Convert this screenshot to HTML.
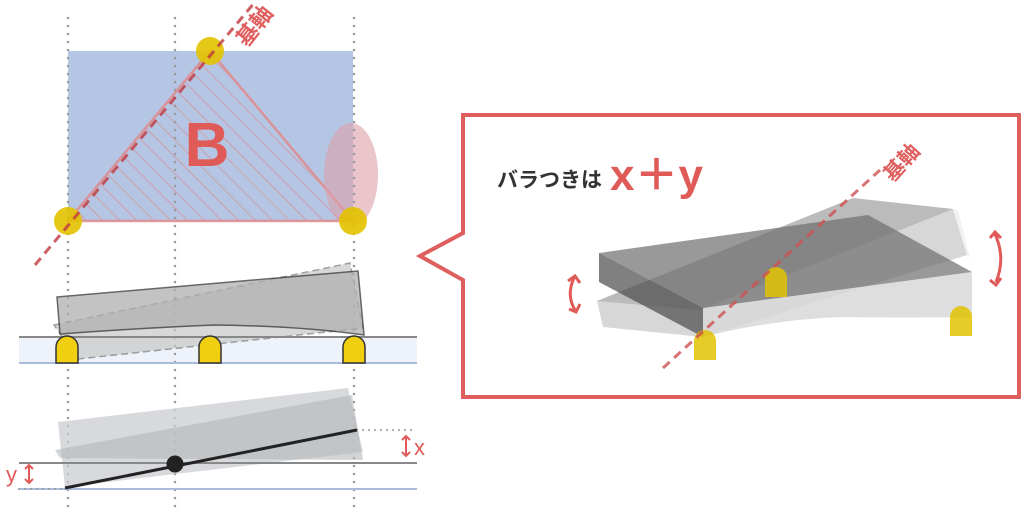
<!DOCTYPE html>
<html><head><meta charset="utf-8"><style>
html,body{margin:0;padding:0;background:#fff;width:1024px;height:512px;overflow:hidden}
svg{display:block}
text{font-family:"Liberation Sans","Noto Sans CJK JP",sans-serif}
</style></head><body>
<svg width="1024" height="512" viewBox="0 0 1024 512" xmlns="http://www.w3.org/2000/svg">
<defs>
<pattern id="h" width="12" height="12" patternUnits="userSpaceOnUse" patternTransform="rotate(-45)">
<line x1="0" y1="0" x2="0" y2="12" stroke="#d98e98" stroke-width="3" opacity="0.6"/>
</pattern>
</defs>
<rect x="68" y="51" width="285" height="170" fill="#b5c6e4"/>
<polygon points="68,221 210,51 353,221" fill="url(#h)" stroke="#e08a8a" stroke-width="2.5" opacity="0.85"/>
<ellipse cx="351" cy="175" rx="27" ry="52" fill="#dca0a8" opacity="0.6"/>
<rect x="19" y="337" width="398" height="26" fill="#eef2fa"/>
<g stroke="#999" stroke-width="2.5" stroke-dasharray="0 8" stroke-linecap="round">
<line x1="68" y1="18" x2="68" y2="512"/><line x1="175" y1="18" x2="175" y2="512"/><line x1="354" y1="18" x2="354" y2="512"/>
</g>
<g fill="#e3c200" opacity="0.9">
<circle cx="68" cy="221" r="14"/><circle cx="210" cy="51" r="14"/><circle cx="353" cy="221" r="14"/>
</g>
<line x1="35" y1="265" x2="255" y2="2" stroke="#c0393e" stroke-width="3" stroke-dasharray="9 6" opacity="0.8"/>
<text x="0" y="0" transform="translate(247,48) rotate(-52)" font-size="22" font-weight="bold" fill="#e06060">基軸</text>
<text x="207" y="166" font-size="62" font-weight="bold" fill="#e05a58" text-anchor="middle">B</text>

<polygon points="54,325 350,263 363,328 78,359" fill="#c8c8c8" opacity="0.7" stroke="#777" stroke-width="1.5" stroke-dasharray="7 4"/>
<path d="M57,297 L358,271 L364,335 Q300,326 215,325 Q140,328 60,334 Z" fill="#b0b0b0" opacity="0.75" stroke="#333" stroke-width="1.5"/>
<line x1="19" y1="337" x2="417" y2="337" stroke="#888" stroke-width="2"/>
<line x1="19" y1="363" x2="417" y2="363" stroke="#aabbdd" stroke-width="2"/>
<g fill="#f0cf10" stroke="#333" stroke-width="1.5">
<path d="M56,363 V347 A11,11 0 0 1 78,347 V363 Z"/>
<path d="M199,363 V347 A11,11 0 0 1 221,347 V363 Z"/>
<path d="M343,363 V347 A11,11 0 0 1 365,347 V363 Z"/>
</g>

<polygon points="58,422 348,388 363,452 65,487" fill="#c9ccd0" opacity="0.75"/>
<polygon points="55,450 352,395 363,460 60,458" fill="#b4b7bb" opacity="0.6"/>
<line x1="19" y1="463" x2="417" y2="463" stroke="#888" stroke-width="2"/>
<line x1="19" y1="489" x2="417" y2="489" stroke="#aabbdd" stroke-width="2"/>
<g stroke="#999" stroke-width="2" stroke-dasharray="0 6" stroke-linecap="round">
<line x1="357" y1="430" x2="417" y2="430"/><line x1="19" y1="489" x2="65" y2="489"/>
</g>
<line x1="65" y1="488" x2="357" y2="430" stroke="#222" stroke-width="3"/>
<circle cx="175" cy="464" r="8.5" fill="#222"/>
<text x="414" y="455" font-size="22" fill="#e05a58">x</text>
<text x="6" y="482" font-size="22" fill="#e05a58">y</text>
<g stroke="#e05a58" stroke-width="2" fill="none">
<path d="M406,436 V456 M402,440 L406,436 L410,440 M402,452 L406,456 L410,452"/>
<path d="M29,465 V483 M25,469 L29,465 L33,469 M25,479 L29,483 L33,479"/>
</g>

<path d="M463,115 H1019 V397 H463 V280 L420,256 L463,233 Z" fill="#fff" stroke="#de5f5d" stroke-width="4"/>
<text x="497" y="187" font-size="21" font-weight="bold" fill="#333">バラつきは</text>
<text x="610" y="190" font-size="44" font-weight="bold" fill="#e05a58">x＋y</text>

<!-- slab A (light, tilted) -->
<polygon points="597,301 853,198 953,209 967,255 703,337 603,327" fill="#b0b0b0" opacity="0.5"/>
<polygon points="953,209 967,255 970,258 958,210" fill="#f2f2f2"/>
<polygon points="597,301 853,198 953,209 700,310" fill="#999" opacity="0.45"/>
<!-- slab B -->
<path d="M703,308 L972,272 L972,317 Q900,318 840,317 Q770,320 703,337 Z" fill="#d8d8d8" opacity="0.85"/>
<polygon points="599,253 868,215 972,272 703,308" fill="#6e6e6e" opacity="0.7"/>
<polygon points="599,253 703,308 703,337 599,282" fill="#4a4a4a" opacity="0.7"/>
<g fill="#e3c200" opacity="0.85">
<path d="M694,360 V341 A11,11 0 0 1 716,341 V360 Z"/>
<path d="M765,297 V278 A11,11 0 0 1 787,278 V297 Z"/>
<path d="M950,336 V317 A11,11 0 0 1 972,317 V336 Z"/>
</g>
<line x1="663" y1="368" x2="880" y2="170" stroke="#d05050" stroke-width="3" stroke-dasharray="9 6" opacity="0.8"/>
<text x="0" y="0" transform="translate(893,183) rotate(-48)" font-size="21" font-weight="bold" fill="#e06060">基軸</text>
<g stroke="#e05a58" stroke-width="3" fill="none">
<path d="M574,278 Q566,295 575,310 M568,281 L575,276 L580,283 M569,309 L576,312 L580,304"/>
<path d="M995,234 Q1006,258 996,282 M990,238 L995,232 L1001,238 M990,280 L996,285 L1001,278"/>
</g>
</svg>
</body></html>
